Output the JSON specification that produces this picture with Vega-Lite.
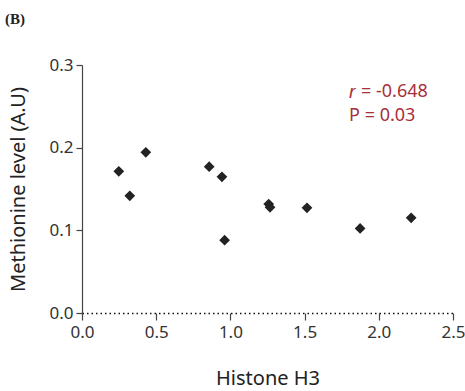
{
  "$schema": "https://vega.github.io/schema/vega-lite/v6.json",
  "autosize": "none",
  "width": 371,
  "height": 248,
  "padding": {"left": 82, "top": 65, "right": 12, "bottom": 78},
  "background": "white",
  "config": {"view": {"stroke": null}, "font": "Noto Sans"},
  "title": {"text": "(B)", "anchor": "start", "frame": "group", "dx": -77, "offset": 29, "font": "Liberation Serif", "fontSize": 15, "fontWeight": "bold", "color": "#222"},
  "datasets": {
    "pts": [
      {"h3": 0.248, "met": 0.1714},
      {"h3": 0.322, "met": 0.1418},
      {"h3": 0.430, "met": 0.1944},
      {"h3": 0.857, "met": 0.177},
      {"h3": 0.943, "met": 0.1648},
      {"h3": 0.961, "met": 0.0881},
      {"h3": 1.258, "met": 0.1318},
      {"h3": 1.267, "met": 0.1278},
      {"h3": 1.516, "met": 0.1273},
      {"h3": 1.874, "met": 0.1023},
      {"h3": 2.218, "met": 0.1152}
    ],
    "rsym": [
      {"x": 1.80, "y": 0.2675, "label": "r"}
    ],
    "notes": [
      {"x": 1.88, "y": 0.2675, "label": "=\u00a0-0.648"},
      {"x": 1.80, "y": 0.2385, "label": "P\u00a0=\u00a00.03"}
    ]
  },
  "layer": [
    {
      "data": {"name": "pts"},
      "mark": {"type": "point", "shape": "diamond", "filled": true, "color": "#222", "size": 115, "opacity": 1},
      "encoding": {
        "x": {"field": "h3", "type": "quantitative", "scale": {"domain": [0, 2.5], "nice": false},
          "axis": {"title": "Histone H3", "values": [0, 0.5, 1, 1.5, 2, 2.5], "format": ".1f", "grid": false, "labelFlush": false,
            "domainColor": "#111", "domainDash": [1.5, 3], "domainWidth": 1.5, "tickColor": "#444", "tickSize": 7, "tickWidth": 1.2,
            "labelFontSize": 17, "labelColor": "#333", "labelPadding": 4, "titleFontSize": 20, "titleFontWeight": "normal", "titleColor": "#222", "titlePadding": 28, "labelFont": "Noto Sans", "titleFont": "Noto Sans"}},
        "y": {"field": "met", "type": "quantitative", "scale": {"domain": [0, 0.3], "nice": false},
          "axis": {"title": "Methionine level (A.U)", "values": [0, 0.1, 0.2, 0.3], "format": ".1f", "grid": false, "labelFlush": false,
            "domainColor": "#444", "domainWidth": 1.2, "tickColor": "#444", "tickSize": 6, "tickWidth": 1.2,
            "labelFontSize": 17, "labelColor": "#333", "labelPadding": 3, "titleFontSize": 20, "titleFontWeight": "normal", "titleColor": "#222", "titlePadding": 20, "labelFont": "Noto Sans", "titleFont": "Noto Sans"}}
      }
    },
    {
      "mark": {"type": "rule", "color": "#555", "strokeWidth": 1.2},
      "encoding": {"y": {"datum": 0.3, "type": "quantitative"}}
    },
    {
      "mark": {"type": "rule", "color": "#555", "strokeWidth": 1.2},
      "encoding": {"x": {"datum": 2.5, "type": "quantitative"}}
    },
    {
      "data": {"name": "rsym"},
      "mark": {"type": "text", "align": "left", "baseline": "middle", "fontSize": 19, "fontStyle": "italic", "color": "#a8303a", "font": "Liberation Sans"},
      "encoding": {
        "x": {"field": "x", "type": "quantitative"},
        "y": {"field": "y", "type": "quantitative"},
        "text": {"field": "label"}
      }
    },
    {
      "data": {"name": "notes"},
      "mark": {"type": "text", "align": "left", "baseline": "middle", "fontSize": 18, "color": "#a8303a", "font": "Noto Sans"},
      "encoding": {
        "x": {"field": "x", "type": "quantitative"},
        "y": {"field": "y", "type": "quantitative"},
        "text": {"field": "label"}
      }
    }
  ]
}
